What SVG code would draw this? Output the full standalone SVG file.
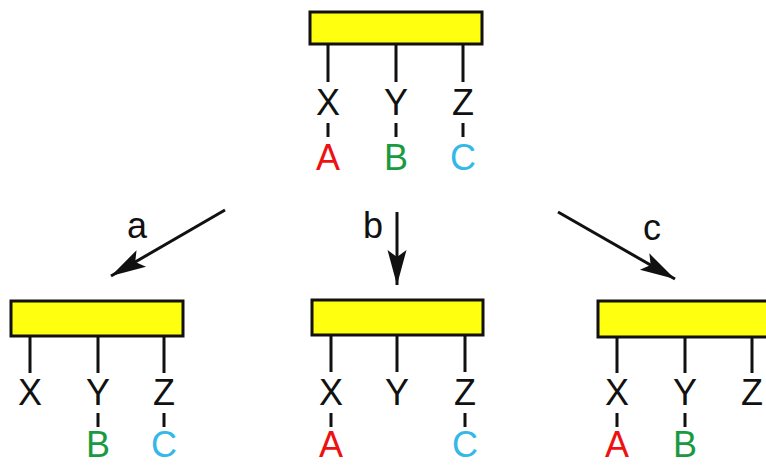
<svg xmlns="http://www.w3.org/2000/svg" width="766" height="465" viewBox="0 0 766 465">
<defs>
<style>
.box{fill:#ffff10;stroke:#111;stroke-width:3}
.ln{stroke:#111;stroke-width:3;fill:none}
.t{font-family:"Liberation Sans",Arial,sans-serif;font-size:36px;text-anchor:middle}
.k{fill:#111}
.r{fill:#ee1111}
.g{fill:#1a9a40}
.c{fill:#33b8e8}
.arr{stroke:#111;stroke-width:3;fill:none;marker-end:url(#ah)}
</style>
<marker id="ah" markerUnits="userSpaceOnUse" markerWidth="44" markerHeight="30" viewBox="-38 -15 44 30" refX="0" refY="0" orient="auto">
<path d="M0,0 L-35,-9.5 L-28,0 L-35,9.5 Z" fill="#111"/>
</marker>
</defs>
<rect width="766" height="465" fill="#fff"/>

<g id="connectors">
<line class="arr" x1="225" y1="210" x2="111" y2="276"/>
<line class="arr" x1="397" y1="212" x2="397" y2="285"/>
<line class="arr" x1="558" y1="212" x2="675" y2="279"/>
<text class="t k" x="137" y="238">a</text>
<text class="t k" x="373" y="238">b</text>
<text class="t k" x="652" y="240">c</text>
</g>

<g id="top-node">
<rect class="box" x="310" y="12" width="172" height="32"/>
<path class="ln" d="M328,44V82M396,44V82M463,44V82M328,123V137M396,123V137M463,123V137"/>
<text class="t k" x="328" y="115">X</text>
<text class="t k" x="396" y="115">Y</text>
<text class="t k" x="463" y="115">Z</text>
<text class="t r" x="328" y="170">A</text>
<text class="t g" x="396" y="170">B</text>
<text class="t c" x="463" y="170">C</text>
</g>

<g id="node-a">
<rect class="box" x="11" y="301" width="172" height="35"/>
<path class="ln" d="M30,336V373M98,336V373M164,336V373M98,413V427M164,413V427"/>
<text class="t k" x="30" y="405">X</text>
<text class="t k" x="98" y="405">Y</text>
<text class="t k" x="164" y="405">Z</text>
<text class="t g" x="98" y="457">B</text>
<text class="t c" x="164" y="457">C</text>
</g>

<g id="node-b">
<rect class="box" x="312" y="300" width="171" height="35"/>
<path class="ln" d="M331,335V372M397,335V372M465,335V372M331,413V427M465,413V427"/>
<text class="t k" x="331" y="405">X</text>
<text class="t k" x="397" y="405">Y</text>
<text class="t k" x="465" y="405">Z</text>
<text class="t r" x="331" y="457">A</text>
<text class="t c" x="465" y="457">C</text>
</g>

<g id="node-c">
<rect class="box" x="598" y="301" width="175" height="36"/>
<path class="ln" d="M617,337V373M685,337V373M752,337V373M617,413V427M685,413V427"/>
<text class="t k" x="617" y="405">X</text>
<text class="t k" x="685" y="405">Y</text>
<text class="t k" x="752" y="405">Z</text>
<text class="t r" x="617" y="457">A</text>
<text class="t g" x="685" y="457">B</text>
</g>
</svg>
